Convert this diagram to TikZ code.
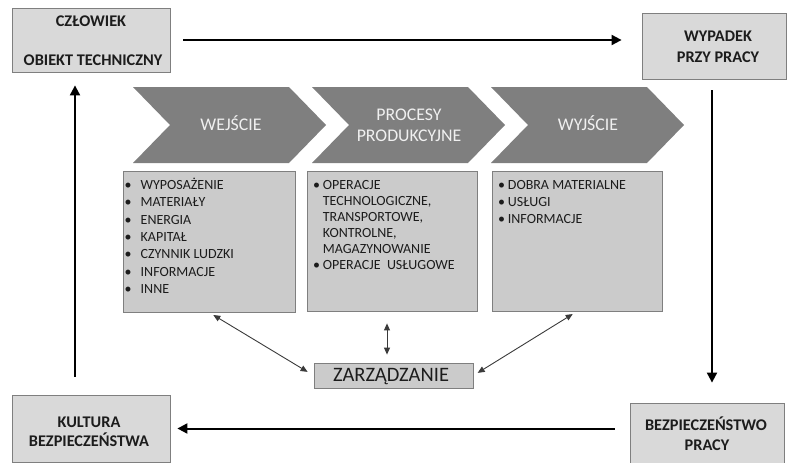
\documentclass[tikz,border=0pt]{standalone}
\usepackage{fontspec}
\setmainfont{Carlito}
\usetikzlibrary{arrows.meta}

\definecolor{boxfill}{HTML}{D9D9D9}
\definecolor{panelfill}{HTML}{CBCBCB}
\definecolor{edgegray}{HTML}{7F7F7F}
\definecolor{chevfill}{HTML}{7F7F7F}
\definecolor{chevtext}{HTML}{F0F0F0}
\definecolor{ink}{HTML}{1C1C1C}
\definecolor{linkgray}{HTML}{3A3A3A}

\newcommand{\bul}[1]{\makebox[#1][l]{•}}

\begin{document}
\begin{tikzpicture}[x=1pt,y=-1pt,
  outerbox/.style={draw=edgegray, line width=0.8pt, fill=boxfill, inner sep=0pt},
  panel/.style={draw=edgegray, line width=0.8pt, fill=panelfill, inner sep=0pt},
  boldlabel/.style={font=\fontsize{16.3pt}{19pt}\selectfont\bfseries, text=ink, inner sep=0pt, anchor=base},
  chevlabel/.style={font=\fontsize{17.8pt}{21pt}\selectfont, text=chevtext, inner sep=0pt, anchor=base},
  listtext/.style={text=ink, inner sep=0pt, anchor=base west},
  flowarrow/.style={line width=2pt, draw=black, -{Triangle[length=10pt,width=10pt]}},
  linkarrow/.style={line width=0.9pt, draw=linkgray, {Triangle[length=7pt,width=6pt]}-{Triangle[length=7pt,width=6pt]}},
  chevron/.style={fill=chevfill, draw=none}
]
\useasboundingbox (0,0) rectangle (788,463);

% corner boxes
\node[outerbox, minimum width=158pt, minimum height=64pt] (czl) at (91,40) {};
\node[outerbox, minimum width=144pt, minimum height=66pt] (wyp) at (714,46) {};
\node[outerbox, minimum width=158pt, minimum height=67pt] (kul) at (91,428.5) {};
\node[outerbox, minimum width=154pt, minimum height=67pt] (bez) at (707,436.5) {};

\node[boldlabel] (czlA) at (91,26.7) {CZŁOWIEK};
\node[boldlabel] (czlB) at (93,65) {OBIEKT TECHNICZNY};
\node[boldlabel] (wypA) at (718,41.7) {WYPADEK};
\node[boldlabel] (wypB) at (718,62.5) {PRZY PRACY};
\node[boldlabel] (kulA) at (89,427) {KULTURA};
\node[boldlabel] (kulB) at (89,446) {BEZPIECZEŃSTWA};
\node[boldlabel] (bezA) at (706,430) {BEZPIECZEŃSTWO};
\node[boldlabel] (bezB) at (707,450) {PRACY};

% process chevrons
\foreach \xo in {133,312,491}{
  \fill[chevron] (\xo,87) -- ++(156,0) -- ++(37,38) -- ++(-37,38) -- ++(-156,0) -- ++(37,-38) -- cycle;
}
\node[chevlabel] (wej) at (231,130) {WEJŚCIE};
\node[chevlabel] (procA) at (409,120) {PROCESY};
\node[chevlabel] (procB) at (409,141) {PRODUKCYJNE};
\node[chevlabel] (wyj) at (588,130) {WYJŚCIE};

% content panels
\node[panel, minimum width=172pt, minimum height=141pt] (p1) at (209,241.5) {};
\node[panel, minimum width=170pt, minimum height=140pt] (p2) at (392,241) {};
\node[panel, minimum width=170pt, minimum height=140pt] (p3) at (577,241) {};

\node[listtext, font=\fontsize{14pt}{17.4pt}\selectfont] (l1) at (124.5,189.3)
  {\begin{tabular}[t]{@{}l@{}l@{}}
   \bul{16pt} & WYPOSAŻENIE\\
   \bul{16pt} & MATERIAŁY\\
   \bul{16pt} & ENERGIA\\
   \bul{16pt} & KAPITAŁ\\
   \bul{16pt} & CZYNNIK LUDZKI\\
   \bul{16pt} & INFORMACJE\\
   \bul{16pt} & INNE
   \end{tabular}};

\node[listtext, font=\fontsize{14pt}{16pt}\selectfont] (l2) at (313,189.3)
  {\begin{tabular}[t]{@{}l@{}l@{}}
   \bul{9.7pt} & OPERACJE\\
   & TECHNOLOGICZNE,\\
   & TRANSPORTOWE,\\
   & KONTROLNE,\\
   & MAGAZYNOWANIE\\
   \bul{9.7pt} & OPERACJE\ \ USŁUGOWE
   \end{tabular}};

\node[listtext, font=\fontsize{14pt}{17pt}\selectfont] (l3) at (498,189.3)
  {\begin{tabular}[t]{@{}l@{}l@{}}
   \bul{9.7pt} & DOBRA MATERIALNE\\
   \bul{9.7pt} & USŁUGI\\
   \bul{9.7pt} & INFORMACJE
   \end{tabular}};

% management box
\node[panel, minimum width=159pt, minimum height=25pt] (zar) at (393.5,375.5) {};
\node[inner sep=0pt, anchor=base, text=ink, font=\fontsize{20.5pt}{24pt}\selectfont] (zarT) at (391,381.2) {ZARZĄDZANIE};

% links between panels and management
\draw[linkarrow, shorten <=5pt, shorten >=7pt] (p1.south) -- (zar.west);
\draw[linkarrow, shorten <=5pt, shorten >=5pt] (p3.south) -- (zar.east);
\draw[linkarrow, shorten <=12pt, shorten >=8pt] ([xshift=-5pt]p2.south) -- ([xshift=-5pt]p2.south |- zar.north);

% safety loop
\draw[flowarrow, shorten <=13pt, shorten >=20pt] (czl.east) -- (czl.east -| wyp.west);
\draw[flowarrow, shorten <=11pt, shorten >=20pt] ([xshift=-2pt]wyp.south) -- ([xshift=-2pt]wyp.south |- bez.north);
\draw[flowarrow, shorten <=15pt, shorten >=7pt] (kul.east -| bez.west) -- (kul.east);
\draw[flowarrow, shorten <=18pt, shorten >=13pt] ([xshift=-16pt]kul.north) -- ([xshift=-16pt]czl.south);
\end{tikzpicture}
\end{document}
